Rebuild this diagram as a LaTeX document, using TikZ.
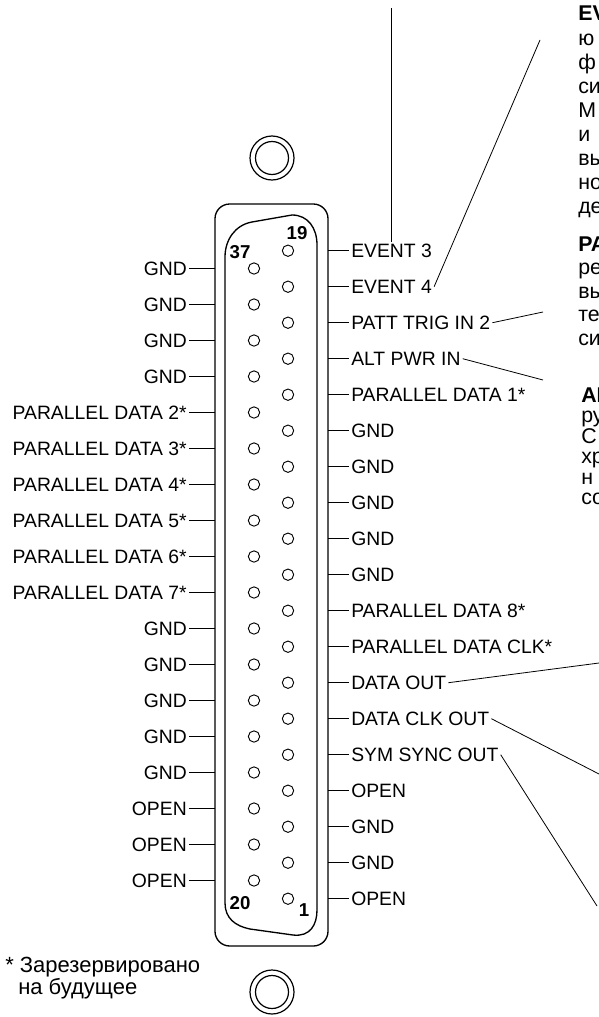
\documentclass[tikz,border=0pt]{standalone}
\usepackage{fontspec}
\setmainfont{Liberation Sans}
\usetikzlibrary{positioning}

\tikzset{
  pinlbl/.style={font=\fontsize{14.5}{16}\selectfont, inner sep=1.5pt},
  pinhole/.style={draw, circle, minimum size=8.5pt, inner sep=0pt, line width=0.7pt},
  pinnum/.style={font=\fontsize{14}{15}\bfseries, inner sep=0pt},
  note/.style={font=\fontsize{16}{18}\selectfont, anchor=base west, inner sep=0pt},
  callout/.style={line width=0.6pt},
}

\begin{document}
\begin{tikzpicture}[x=0.75pt,y=0.75pt,yscale=-1,xscale=1]
\useasboundingbox (0,0) rectangle (599,1017);

% Mounting holes
\draw [line width=0.9pt] (272,158) circle (22) (272,158) circle (16.5);
\draw [line width=0.9pt] (272,992) circle (22) (272,992) circle (16.5);

% Connector shell
\draw [line width=1pt, rounded corners=11pt] (215,204) rectangle (328,946);
% Inner D outline
\draw [line width=1pt] (225,257) -- (225,903) .. controls (225,918) and (235,926) .. (250,929) -- (293,935) .. controls (310,937) and (317,925) .. (317,910) -- (317,245) .. controls (317,228) and (308,215) .. (292,215) -- (252,222) .. controls (235,225) and (225,240) .. (225,257) -- cycle;

% Pins 37..20 (left row) and 19..1 (right row)
\foreach \i in {0,...,17}
  \node [pinhole] (pl\i) at (254,268.5+36*\i) {};
\foreach \j in {0,...,18}
  \node [pinhole] (pr\j) at (288,250.7+36*\j) {};

\node [pinnum] (n19) at (297,233) {19};
\node [pinnum] (n37) at (240,252) {37};
\node [pinnum] (n20) at (240,903) {20};
\node [pinnum] (n1) at (304,910) {1};

% Left side signals
\foreach \lbl [count=\i from 0] in {GND,GND,GND,GND,PARALLEL DATA 2*,PARALLEL DATA 3*,PARALLEL DATA 4*,PARALLEL DATA 5*,PARALLEL DATA 6*,PARALLEL DATA 7*,GND,GND,GND,GND,GND,OPEN,OPEN,OPEN}
{
  \node [pinlbl, anchor=east] (w\i) at (189,268.5+36*\i) {\lbl};
  \coordinate (sw\i) at (215,268.5+36*\i);
  \draw [line width=0.9pt] (w\i.east) -- (sw\i);
}

% Right side signals
\foreach \lbl [count=\j from 0] in {EVENT 3,EVENT 4,PATT TRIG IN 2,ALT PWR IN,PARALLEL DATA 1*,GND,GND,GND,GND,GND,PARALLEL DATA 8*,PARALLEL DATA CLK*,DATA OUT,DATA CLK OUT,SYM SYNC OUT,OPEN,GND,GND,OPEN}
{
  \node [pinlbl, anchor=west] (e\j) at (349,250.7+36*\j) {\lbl};
  \coordinate (se\j) at (328,250.7+36*\j);
  \draw [line width=0.9pt] (se\j) -- (e\j.west);
}

% Callout lines
\coordinate (ev3top) at (391,8);
\coordinate (ev4end) at (540,40);
\coordinate (pattend) at (543,312);
\coordinate (altend) at (543,380);
\coordinate (doutend) at (599,663);
\coordinate (dclkend) at (599,774);
\coordinate (symend) at (597,906);
\draw [callout] (ev3top) -- (ev3top |- e0.north);
\draw [callout] (e1.east) -- (ev4end);
\draw [callout] (e2.east) -- (pattend);
\draw [callout] (e3.east) -- (altend);
\draw [callout] (e12.east) -- (doutend);
\draw [callout] (e13.east) -- (dclkend);
\draw [callout] (e14.east) -- (symend);

% Descriptions (cut off at the right edge)
\foreach \txt [count=\k from 0] in {{\bfseries EVENT 3 и EVENT 4},ю,ф,си,М,и,вы,но,де}
  \node [note] (da\k) at (578,21+24*\k) {\txt};
\foreach \txt [count=\k from 0] in {{\bfseries PATT TRIG IN 2},ре,вы,те,си}
  \node [note] (db\k) at (578,251+23.5*\k) {\txt};
\foreach \txt [count=\k from 0] in {{\bfseries ALT PWR IN},ру,С,хр,н,со}
  \node [note] (dc\k) at (581,402+20.5*\k) {\txt};

% Footnote
\node [note, font=\fontsize{16.5}{18}\selectfont] (fn1) at (5,972) {* Зарезервировано};
\node [note, font=\fontsize{16.5}{18}\selectfont] (fn2) at (18,994) {на будущее};

\end{tikzpicture}
\end{document}
